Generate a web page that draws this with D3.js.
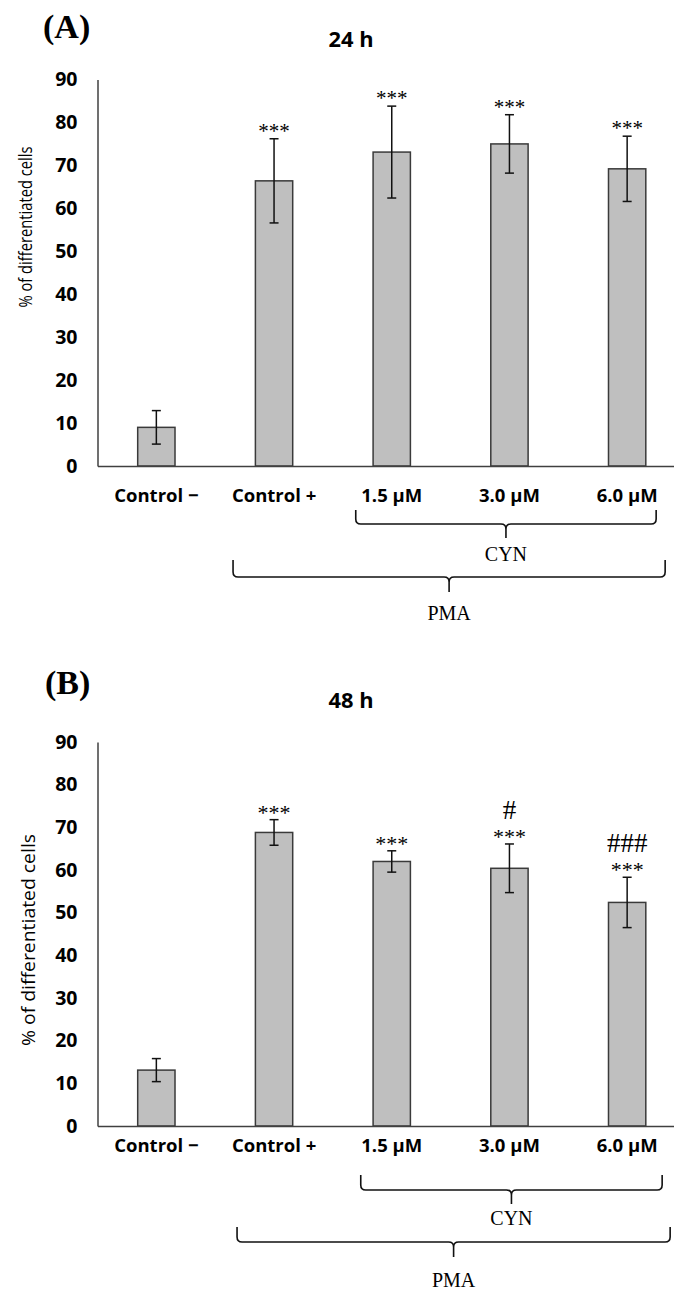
<!DOCTYPE html>
<html>
<head>
<meta charset="utf-8">
<script src="https://cdn.jsdelivr.net/npm/d3@7"></script>
<style>
  html, body { margin: 0; padding: 0; background: #fff; }
  svg { display: block; }
</style>
</head>
<body>
<svg id="chart" width="674" height="1290"></svg>
<script>
// ---------------- DATA ----------------
const categories = ["Control −", "Control +", "1.5 µM", "3.0 µM", "6.0 µM"];
const yTicks = [0, 10, 20, 30, 40, 50, 60, 70, 80, 90];

const values24h = [9.0, 66.4, 73.1, 75.0, 69.2];
const errors24h = [3.9, 9.8, 10.7, 6.8, 7.6];
const stars24h  = ["", "***", "***", "***", "***"];
const hashes24h = ["", "", "", "", ""];

const values48h = [13.1, 68.8, 62.0, 60.4, 52.4];
const errors48h = [2.7, 3.0, 2.5, 5.7, 5.9];
const stars48h  = ["", "***", "***", "***", "***"];
const hashes48h = ["", "", "", "#", "###"];

const panelLabels = ["(A)", "(B)"];
const panelTitles = ["24 h", "48 h"];
const yAxisTitle = "% of differentiated cells";
const groupCYN = "CYN";
const groupPMA = "PMA";

// ---------------- LAYOUT ----------------
const svg = d3.select("#chart");
svg.append("rect").attr("width", 674).attr("height", 1290).attr("fill", "#fff");

const panels = [
  {
    values: values24h, errors: errors24h, stars: stars24h, hashes: hashes24h,
    label: panelLabels[0], title: panelTitles[0],
    yBase: 466, yTop: 79.5,
    labelXY: [43, 38], titleXY: [351, 47],
    yTitleX: 32, yTitleY: 227, yTitleSize: 19, yTitleLen: 161,
    catBaseline: 501.5,
    starSize: 21, starLift: 1, hashSize: 27, hashLift: 25,
    cyn: { l: -36, r: 29, top: 510, mid: 524, tip: 538, textY: 561 },
    pma: { l: -41, r: 38, top: 560, mid: 577, tip: 592, textY: 620 }
  },
  {
    values: values48h, errors: errors48h, stars: stars48h, hashes: hashes48h,
    label: panelLabels[1], title: panelTitles[1],
    yBase: 1126, yTop: 742,
    labelXY: [45, 694], titleXY: [351, 708],
    yTitleX: 35, yTitleY: 940, yTitleSize: 19, yTitleLen: 212,
    catBaseline: 1151.5,
    starSize: 22, starLift: 0, hashSize: 27, hashLift: 25,
    cyn: { l: -31, r: 35, top: 1175, mid: 1190, tip: 1204, textY: 1225 },
    pma: { l: -37, r: 43, top: 1227, mid: 1242, tip: 1257, textY: 1287 }
  }
];

const x = d3.scaleBand()
  .domain(categories)
  .range([97.5, 686])
  .paddingInner(0.683)
  .paddingOuter(0.3415);

const axisColor = "#404040";
const barFill = "#bfbfbf";
const barStroke = "#3a3a3a";

function bracePath(x0, x1, xc, yTop, yMid, yTip) {
  const r = 5;
  return `M${x0},${yTop} V${yMid - r} Q${x0},${yMid} ${x0 + r},${yMid} H${xc - r} Q${xc},${yMid} ${xc},${yMid + r} V${yTip}` +
         ` M${xc},${yMid + r} Q${xc},${yMid} ${xc + r},${yMid} H${x1 - r} Q${x1},${yMid} ${x1},${yMid - r} V${yTop}`;
}

panels.forEach(p => {
  const y = d3.scaleLinear().domain([0, 90]).range([p.yBase, p.yTop]);
  const g = svg.append("g");

  // Panel label and title
  g.append("text")
    .attr("x", p.labelXY[0]).attr("y", p.labelXY[1])
    .attr("font-family", "'Liberation Serif', 'Times New Roman', serif")
    .attr("font-weight", "bold").attr("font-size", 34)
    .text(p.label);

  g.append("text")
    .attr("x", p.titleXY[0]).attr("y", p.titleXY[1])
    .attr("text-anchor", "middle")
    .attr("font-family", "'Open Sans', sans-serif")
    .attr("font-weight", "bold").attr("font-size", 22)
    .attr("textLength", 45).attr("lengthAdjust", "spacingAndGlyphs")
    .text(p.title);

  // Y axis
  const yAxis = d3.axisLeft(y).tickValues(yTicks).tickSize(0).tickSizeOuter(0).tickPadding(20);
  const yg = g.append("g").attr("transform", `translate(${x.range()[0]},0)`).call(yAxis);
  yg.select(".domain").attr("stroke", axisColor).attr("stroke-width", 1.5);
  yg.selectAll("text")
    .attr("font-family", "'Open Sans', sans-serif")
    .attr("font-weight", "bold").attr("font-size", 19.5).attr("fill", "#000");

  // Y axis title
  g.append("text")
    .attr("transform", `translate(${p.yTitleX},${p.yTitleY}) rotate(-90)`)
    .attr("text-anchor", "middle")
    .attr("font-family", "'Open Sans', sans-serif")
    .attr("font-size", p.yTitleSize)
    .attr("textLength", p.yTitleLen).attr("lengthAdjust", "spacingAndGlyphs")
    .text(yAxisTitle);

  // Bars
  g.selectAll("rect.bar")
    .data(categories)
    .join("rect")
    .attr("class", "bar")
    .attr("x", d => x(d))
    .attr("width", x.bandwidth())
    .attr("y", (d, i) => y(p.values[i]))
    .attr("height", (d, i) => y(0) - y(p.values[i]))
    .attr("fill", barFill)
    .attr("stroke", barStroke)
    .attr("stroke-width", 1.5);

  // X axis
  const xAxis = d3.axisBottom(x).tickSize(0).tickSizeOuter(0).tickPadding(0);
  const xg = g.append("g").attr("transform", `translate(0,${p.yBase})`).call(xAxis);
  xg.select(".domain").attr("stroke", axisColor).attr("stroke-width", 1.5);
  xg.selectAll("text")
    .attr("y", p.catBaseline - p.yBase).attr("dy", 0)
    .attr("font-family", "'Open Sans', sans-serif")
    .attr("font-weight", "bold").attr("font-size", 18.5).attr("fill", "#000");

  // Error bars
  const cap = 4.5;
  categories.forEach((c, i) => {
    const cx = x(c) + x.bandwidth() / 2;
    const hi = y(p.values[i] + p.errors[i]);
    const lo = y(p.values[i] - p.errors[i]);
    const eg = g.append("g").attr("stroke", "#111").attr("stroke-width", 1.5);
    eg.append("line").attr("x1", cx).attr("x2", cx).attr("y1", hi).attr("y2", lo);
    eg.append("line").attr("x1", cx - cap).attr("x2", cx + cap).attr("y1", hi).attr("y2", hi);
    eg.append("line").attr("x1", cx - cap).attr("x2", cx + cap).attr("y1", lo).attr("y2", lo);

    if (p.stars[i]) {
      g.append("text")
        .attr("x", cx).attr("y", hi - p.starLift)
        .attr("text-anchor", "middle")
        .attr("font-family", "'Liberation Serif', 'Times New Roman', serif")
        .attr("font-size", p.starSize)
        .text(p.stars[i]);
    }
    if (p.hashes[i]) {
      g.append("text")
        .attr("x", cx).attr("y", hi - p.hashLift)
        .attr("text-anchor", "middle")
        .attr("font-family", "'Liberation Serif', 'Times New Roman', serif")
        .attr("font-size", p.hashSize)
        .text(p.hashes[i]);
    }
  });

  // Group braces
  const cx = c => x(c) + x.bandwidth() / 2;
  const cynL = cx(categories[2]) + p.cyn.l, cynR = cx(categories[4]) + p.cyn.r;
  const cynC = (cynL + cynR) / 2;
  g.append("path")
    .attr("d", bracePath(cynL, cynR, cynC, p.cyn.top, p.cyn.mid, p.cyn.tip))
    .attr("fill", "none").attr("stroke", "#111").attr("stroke-width", 1.6);
  g.append("text")
    .attr("x", cynC).attr("y", p.cyn.textY)
    .attr("text-anchor", "middle")
    .attr("font-family", "'Liberation Serif', 'Times New Roman', serif")
    .attr("font-size", 20)
    .text(groupCYN);

  const pmaL = cx(categories[1]) + p.pma.l, pmaR = cx(categories[4]) + p.pma.r;
  const pmaC = (pmaL + pmaR) / 2;
  g.append("path")
    .attr("d", bracePath(pmaL, pmaR, pmaC, p.pma.top, p.pma.mid, p.pma.tip))
    .attr("fill", "none").attr("stroke", "#111").attr("stroke-width", 1.6);
  g.append("text")
    .attr("x", pmaC).attr("y", p.pma.textY)
    .attr("text-anchor", "middle")
    .attr("font-family", "'Liberation Serif', 'Times New Roman', serif")
    .attr("font-size", 20)
    .text(groupPMA);
});
</script>
</body>
</html>
